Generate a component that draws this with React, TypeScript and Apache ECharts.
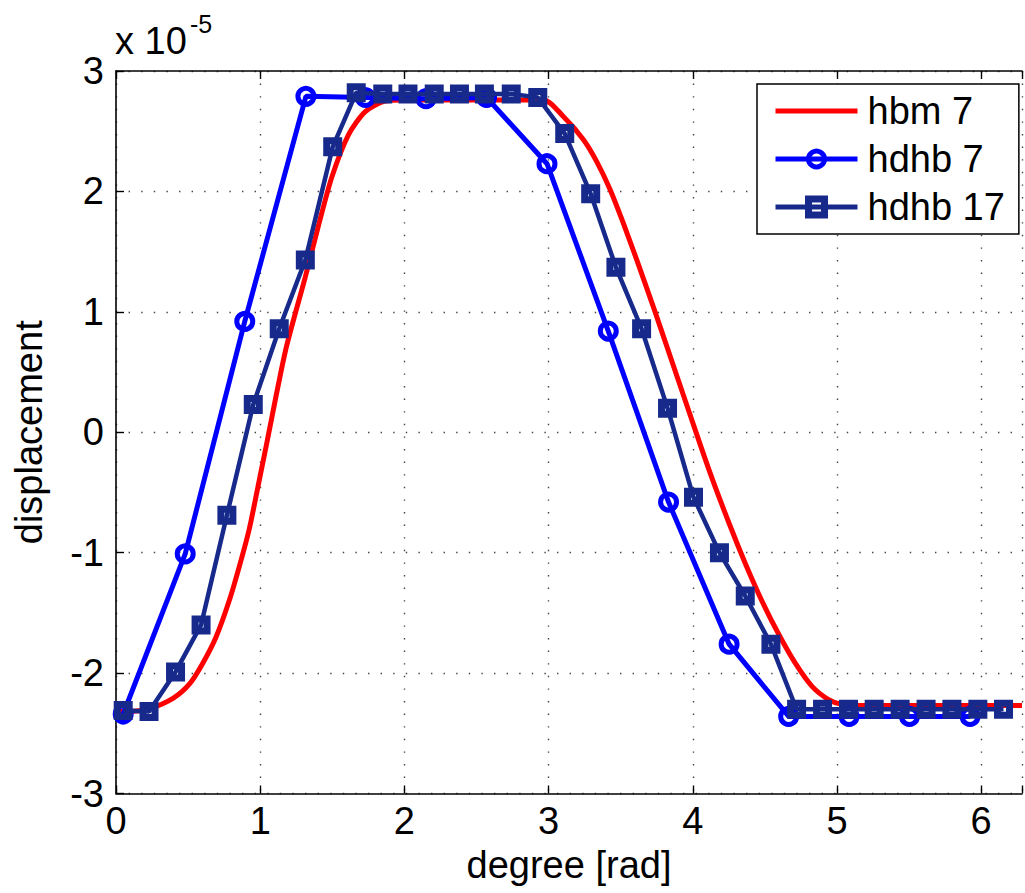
import React, { useEffect, useRef } from "react";
import * as echarts from "echarts";

// values are in units of 1e-5
const hbmX = [0.0, 0.1, 0.234, 0.395, 0.51, 0.601, 0.694, 0.785, 0.854, 0.923, 0.98, 1.049, 1.176, 1.313, 1.405, 1.497, 1.612, 1.727, 1.864, 2.0, 2.5, 2.966, 3.104, 3.242, 3.333, 3.425, 3.517, 3.609, 3.724, 3.838, 3.977, 4.115, 4.253, 4.368, 4.483, 4.597, 4.712, 4.827, 4.942, 5.034, 5.2, 5.6, 6.283];
const hbmY = [-2.32, -2.32, -2.295, -2.21, -2.09, -1.92, -1.7, -1.4, -1.12, -0.81, -0.48, -0.07, 0.68, 1.29, 1.72, 2.12, 2.47, 2.66, 2.75, 2.76, 2.76, 2.76, 2.62, 2.43, 2.25, 2.02, 1.74, 1.44, 1.05, 0.65, 0.16, -0.32, -0.76, -1.1, -1.41, -1.68, -1.92, -2.11, -2.22, -2.26, -2.27, -2.27, -2.27];

const hdhb7X = [0.05, 0.48, 0.893, 1.317, 1.73, 2.15, 2.57, 2.989, 3.414, 3.832, 4.252, 4.665, 5.084, 5.503, 5.923];
const hdhb7Y = [-2.34, -1.01, 0.92, 2.79, 2.78, 2.77, 2.78, 2.23, 0.84, -0.58, -1.76, -2.36, -2.36, -2.36, -2.36];

const hdhb17X = [0.05, 0.229, 0.413, 0.59, 0.769, 0.952, 1.132, 1.313, 1.503, 1.666, 1.85, 2.025, 2.207, 2.382, 2.555, 2.741, 2.925, 3.112, 3.292, 3.467, 3.645, 3.825, 4.005, 4.185, 4.364, 4.542, 4.72, 4.9, 5.08, 5.258, 5.438, 5.618, 5.797, 5.977, 6.155];
const hdhb17Y = [-2.31, -2.32, -1.99, -1.6, -0.69, 0.23, 0.86, 1.43, 2.37, 2.82, 2.81, 2.81, 2.81, 2.81, 2.81, 2.81, 2.78, 2.48, 1.98, 1.37, 0.86, 0.2, -0.54, -1.0, -1.36, -1.76, -2.3, -2.3, -2.3, -2.3, -2.3, -2.3, -2.3, -2.3, -2.3];

const seriesNames = ["hbm 7", "hdhb 7", "hdhb 17"];
const xAxisName = "degree [rad]";
const yAxisName = "displacement";
const exponentBase = "x 10";
const exponentPower = "-5";
const xMax = 6.2832;

const FONT = "'Liberation Sans', Arial, Helvetica, sans-serif";
const RED = "#FF0000";
const BLUE = "#0000FF";
const NAVY = "#172A8C";

const zip = (xs: number[], ys: number[]) => xs.map((x, i) => [x, ys[i]]);

export default function App() {
  const ref = useRef<HTMLDivElement>(null);
  useEffect(() => {
    if (!ref.current) return;
    const chart = echarts.init(ref.current, null, { renderer: "svg" });
    const gridDots = { color: "#444", width: 1.4, type: [1.4, 11.2] as any };
    const axisLine = { show: true, onZero: false, lineStyle: { color: "#000", width: 1.6 } };
    const axisTick = { show: true, inside: true, length: 8, lineStyle: { color: "#000", width: 1.4 } };
    chart.setOption({
      animation: false,
      backgroundColor: "#fff",
      textStyle: { fontFamily: FONT },
      grid: { left: 116, top: 71, right: -3, bottom: 99.5, containLabel: false },
      xAxis: [
        {
          type: "value",
          position: "bottom",
          min: 0,
          max: xMax,
          interval: 1,
          name: xAxisName,
          nameLocation: "middle",
          nameGap: 52,
          nameTextStyle: { fontSize: 38, color: "#000", fontFamily: FONT },
          axisLine,
          axisTick,
          axisLabel: {
            fontSize: 38,
            color: "#000",
            fontFamily: FONT,
            margin: 8,
            formatter: (v: number) => (Number.isInteger(v) ? String(v) : ""),
          },
          splitLine: { show: true, lineStyle: gridDots },
        },
        {
          type: "value",
          position: "top",
          min: 0,
          max: xMax,
          interval: 1,
          axisLine,
          axisTick,
          axisLabel: { show: false },
          splitLine: { show: false },
        },
      ],
      yAxis: {
        type: "value",
        min: -3,
        max: 3,
        interval: 1,
        name: yAxisName,
        nameLocation: "middle",
        nameGap: 68,
        nameTextStyle: { fontSize: 38, color: "#000", fontFamily: FONT },
        axisLine,
        axisTick,
        axisLabel: { fontSize: 38, color: "#000", fontFamily: FONT, margin: 12 },
        splitLine: { show: true, lineStyle: gridDots },
      },
      legend: {
        left: 757,
        top: 84,
        orient: "vertical",
        data: [
          { name: seriesNames[0], itemStyle: { opacity: 0 } },
          { name: seriesNames[1], itemStyle: { color: "rgba(255,255,255,0)", borderColor: BLUE, borderWidth: 5 } },
          { name: seriesNames[2], itemStyle: { color: "rgba(255,255,255,0)", borderColor: NAVY, borderWidth: 7 } },
        ],
        backgroundColor: "#fff",
        borderColor: "#000",
        borderWidth: 1.5,
        borderRadius: 0,
        padding: [7, 14, 7, 16],
        itemGap: 8,
        itemWidth: 82,
        itemHeight: 20,
        lineStyle: { width: 5 },
        textStyle: { fontSize: 38, lineHeight: 40, color: "#000", fontFamily: FONT, padding: [0, 0, 0, 5] },
      },
      graphic: [
        {
          type: "text",
          left: 115,
          top: 22,
          style: { text: exponentBase, fontSize: 38, fill: "#000", fontFamily: FONT },
        },
        {
          type: "text",
          left: 190,
          top: 11,
          style: { text: exponentPower, fontSize: 25, fill: "#000", fontFamily: FONT },
        },
      ],
      series: [
        {
          name: seriesNames[0],
          type: "line",
          data: zip(hbmX, hbmY),
          showSymbol: false,
          symbol: "none",
          smooth: 0.25,
          color: RED,
          lineStyle: { color: RED, width: 5 },
          z: 2,
        },
        {
          name: seriesNames[1],
          type: "line",
          data: zip(hdhb7X, hdhb7Y),
          symbol: "circle",
          symbolSize: 16,
          color: BLUE,
          lineStyle: { color: BLUE, width: 5 },
          itemStyle: { color: "rgba(255,255,255,0)", borderColor: BLUE, borderWidth: 5 },
          z: 3,
        },
        {
          name: seriesNames[2],
          type: "line",
          data: zip(hdhb17X, hdhb17Y),
          symbol: "rect",
          symbolSize: 12,
          color: NAVY,
          lineStyle: { color: NAVY, width: 4.5 },
          itemStyle: { color: "rgba(255,255,255,0)", borderColor: NAVY, borderWidth: 7 },
          z: 4,
        },
      ],
    });
    return () => chart.dispose();
  }, []);
  return (
    <div
      ref={ref}
      style={{ position: "fixed", left: 0, top: 0, width: 1025, height: 893, background: "#fff" }}
    />
  );
}
